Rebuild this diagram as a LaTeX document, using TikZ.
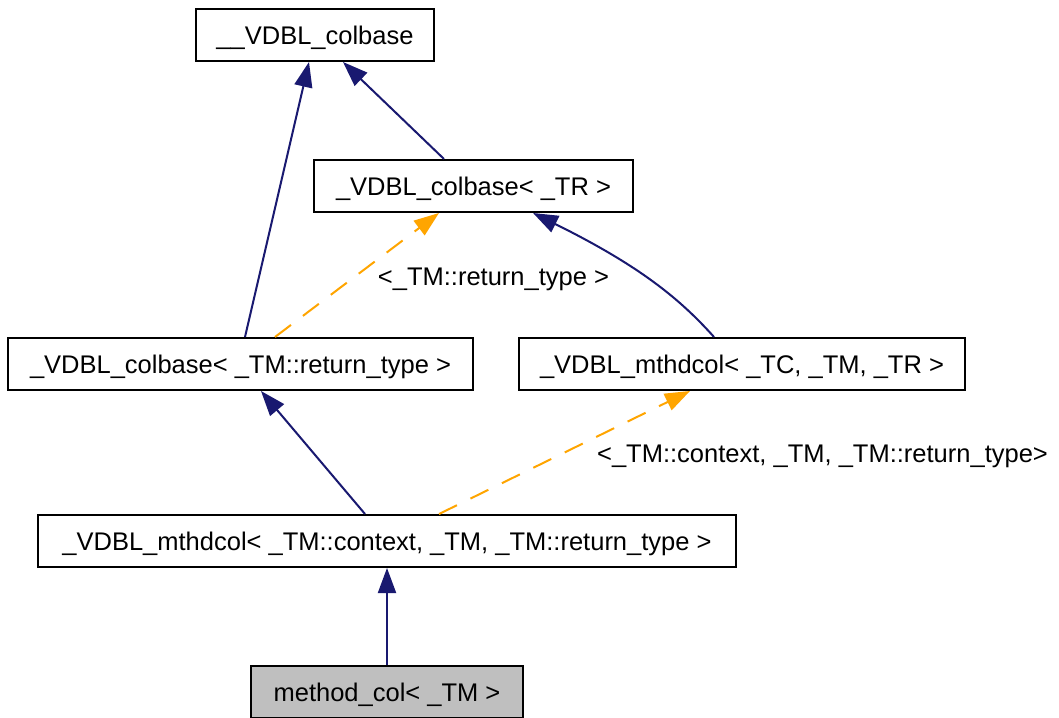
\documentclass[tikz,border=0pt]{standalone}
\usepackage{fontspec}
\setmainfont{Liberation Sans}
\usetikzlibrary{arrows.meta}
\definecolor{edgeblue}{HTML}{191970}
\definecolor{edgeorange}{HTML}{FFA500}
\definecolor{boxgray}{HTML}{BFBFBF}
\begin{document}
\begin{tikzpicture}[x=1pt,y=-1pt,
  box/.style={draw=black, line width=2pt, fill=white, minimum height=52pt,
    inner sep=0pt, font=\fontsize{25.5}{30}\selectfont, text height=18.3pt, text depth=0pt},
  lbl/.style={inner sep=0pt, font=\fontsize{25.5}{30}\selectfont, text height=18.3pt, text depth=0pt},
  inherit/.style={draw=edgeblue, line width=2pt, -{Triangle[length=25pt,width=18pt]}},
  templ/.style={draw=edgeorange, line width=2pt, dash pattern=on 20pt off 15pt,
    -{Triangle[length=25pt,width=18pt]}}]
\useasboundingbox[fill=white] (0,0) rectangle (1059,717);

\node[box, minimum width=238pt] (n1) at (315,35) {\_\_VDBL\_colbase};
\node[box, minimum width=319pt] (n2) at (473.5,186) {\_VDBL\_colbase< \_TR >};
\node[box, minimum width=465pt] (n3) at (240.5,364) {\_VDBL\_colbase< \_TM::return\_type >};
\node[box, minimum width=446pt] (n4) at (742,364) {\_VDBL\_mthdcol< \_TC, \_TM, \_TR >};
\node[box, minimum width=698pt] (n5) at (387,541) {\_VDBL\_mthdcol< \_TM::context, \_TM, \_TM::return\_type >};
\node[box, minimum width=272pt, fill=boxgray] (n6) at (387,692) {method\_col< \_TM >};

\node[lbl] (l1) at (493.5,276) {<\_TM::return\_type >};
\node[lbl] (l2) at (822.5,453.5) {<\_TM::context, \_TM, \_TM::return\_type>};

\draw[inherit] ([xshift=4.5pt]n3.north) -- ([xshift=-6pt]n1.south);
\draw[inherit] ([xshift=-29.5pt]n2.north) -- ([xshift=28pt]n1.south);
\draw[inherit] ([xshift=-28pt]n4.north) .. controls +(-34,-38) and +(107,53) .. ([xshift=59.5pt]n2.south);
\draw[templ] ([xshift=34.5pt]n3.north) -- ([xshift=-34.5pt]n2.south);
\draw[inherit] ([xshift=-22pt]n5.north) -- ([xshift=20.5pt]n3.south);
\draw[templ] ([xshift=52pt]n5.north) -- ([xshift=-52pt]n4.south);
\draw[inherit] (n6.north) -- (n5.south);
\end{tikzpicture}
\end{document}
